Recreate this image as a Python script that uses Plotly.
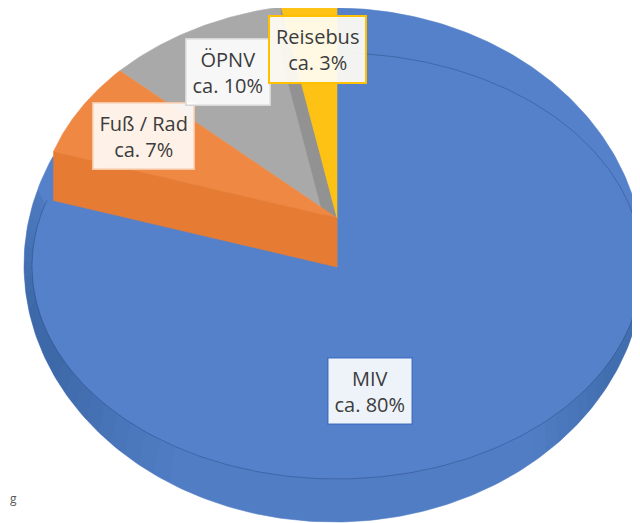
import numpy as np
import plotly.graph_objects as go

# ---- data ----
categories = ["MIV", "Fuß / Rad", "ÖPNV", "Reisebus"]
shares = [80, 7, 10, 3]
label_texts = ["MIV<br>ca. 80%", "Fuß / Rad<br>ca. 7%", "ÖPNV<br>ca. 10%", "Reisebus<br>ca. 3%"]

# ---- styles / geometry (pixel space) ----
W, H = 640, 523
PAGE_OFF = 8   # default body margin of the html page
top_cols = ["#5481CA", "#EE8843", "#A9A9A9", "#FEC215"]
side_cols = ["#4A73B8", "#E67C34", "#929292", "#E0A800"]
# main (front) slice
APEX = (337, 266)
E_OUT = (334, 265, 310, 257)      # outer silhouette ellipse
E_IN = (337, 266, 305, 213)       # top-face rim line
RIM_EXTRA = 7                     # rim overhang beyond the slice edge (deg)
# exploded back slices
APEX2 = (337, 218)
E_EXP = (337, 218, 298, 215)
THICK = 49
label_pos = [(370, 391), (143, 136), (228, 72), (317, 49)]
label_bg = ["rgba(255,255,255,0.90)", "rgba(255,250,246,0.92)",
            "rgba(255,255,255,0.90)", "rgba(255,253,244,0.93)"]
label_border = ["#4472C4", "#F6C5A2", "#D6D6D6", "#FFC000"]


def ell(e, th):
    cx, cy, rx, ry = e
    t = np.radians(th)
    return cx + rx * np.sin(t), cy - ry * np.cos(t)


def arc(e, a0, a1, n=120):
    th = np.linspace(a0, a1, n)
    x, y = ell(e, th)
    return list(x), list(y)


# angles (clockwise from 12 o'clock)
total = sum(shares)
bounds = np.concatenate([[0], np.cumsum(shares) / total * 360])

fig = go.Figure()


def poly(xs, ys, color, lw=0.6, lc=None):
    fig.add_trace(go.Scatter(x=xs, y=ys, mode="lines", fill="toself",
                             fillcolor=color,
                             line=dict(color=lc or color, width=lw),
                             hoverinfo="skip", showlegend=False))


# --- front slice (MIV) ---
a0, a1 = bounds[0], bounds[1]
xo, yo = arc(E_OUT, a0, a1 + RIM_EXTRA, 300)
poly([APEX[0]] + xo + [APEX[0]], [APEX[1]] + yo + [APEX[1]], top_cols[0])


# rim shading between outer silhouette and rim line (layered for a soft gradient)
def band(t0, t1, color):
    x1, y1 = arc(E_OUT, t0, t1)
    x2, y2 = arc(E_IN, t1, t0)
    poly(x1 + x2 + [x1[0]], y1 + y2 + [y1[0]], color, lw=0)


for k in range(10):
    w = 40 - 3.5 * k
    band(max(200, 252 - w), min(287, 252 + w), "rgba(10,30,70,0.022)")
for k in range(8):
    w = 28 - 3 * k
    band(112 - w, 112 + w, "rgba(10,30,70,0.02)")
band(95, 287, "rgba(10,30,70,0.03)")

# rim line
xl, yl = arc(E_IN, a0, a1, 300)
fig.add_trace(go.Scatter(x=xl, y=yl, mode="lines",
                         line=dict(color="rgba(40,70,130,0.45)", width=1),
                         hoverinfo="skip", showlegend=False))

# --- back slices (exploded) ---
def top_face(i):
    xs, ys = arc(E_EXP, bounds[i], bounds[i + 1], 60)
    poly([APEX2[0]] + xs + [APEX2[0]], [APEX2[1]] + ys + [APEX2[1]], top_cols[i])


def radial_face(i, ang, color):
    px, py = ell(E_EXP, ang)
    xs = [APEX2[0], px, px, APEX2[0], APEX2[0]]
    ys = [APEX2[1], py, py + THICK, APEX2[1] + THICK, APEX2[1]]
    poly(xs, ys, color)


# gray (ÖPNV)
top_face(2)
radial_face(2, bounds[3], side_cols[2])
# yellow (Reisebus)
top_face(3)
# orange (Fuß / Rad)
top_face(1)
radial_face(1, bounds[1], side_cols[1])

# --- labels ---
for i, txt in enumerate(label_texts):
    fig.add_annotation(x=label_pos[i][0], y=label_pos[i][1], xref="x", yref="y",
                       text=txt, showarrow=False,
                       font=dict(family="Open Sans", size=20, color="#3C3C3C"),
                       bgcolor=label_bg[i], bordercolor=label_border[i],
                       borderwidth=1.5 if i != 3 else 2, borderpad=6,
                       align="center")

fig.add_annotation(x=0, y=498, xref="paper", yref="y", text="g", showarrow=False,
                   xanchor="left", font=dict(family="Open Sans", size=12, color="#595959"))

fig.update_layout(width=W - PAGE_OFF, height=H - PAGE_OFF,
                  margin=dict(l=0, r=0, t=0, b=0),
                  paper_bgcolor="white", plot_bgcolor="white",
                  xaxis=dict(range=[PAGE_OFF, W], visible=False, fixedrange=True),
                  yaxis=dict(range=[H, PAGE_OFF], visible=False, fixedrange=True),
                  showlegend=False)

fig.write_html("out.html")
